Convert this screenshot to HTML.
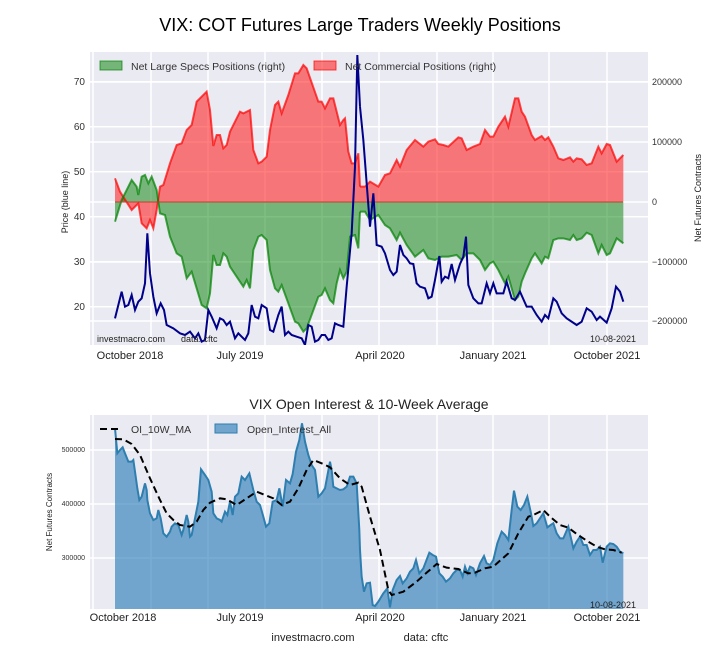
<!DOCTYPE html>
<html><head><meta charset="utf-8"><style>
body{margin:0;background:#fff;}
svg{display:block;font-family:"Liberation Sans",sans-serif;}
</style></head><body>
<svg width="720" height="660" viewBox="0 0 720 660" xmlns="http://www.w3.org/2000/svg">
<rect width="720" height="660" fill="#fff"/>
<text x="360" y="31" font-size="18" text-anchor="middle" fill="#000">VIX: COT Futures Large Traders Weekly Positions</text>
<rect x="90" y="52" width="558" height="293" fill="#eaeaf2"/>
<g stroke="#fff" stroke-width="1.5">
<line x1="93" y1="52" x2="93" y2="345"/><line x1="151" y1="52" x2="151" y2="345"/><line x1="208" y1="52" x2="208" y2="345"/><line x1="265" y1="52" x2="265" y2="345"/><line x1="322" y1="52" x2="322" y2="345"/><line x1="379" y1="52" x2="379" y2="345"/><line x1="437" y1="52" x2="437" y2="345"/><line x1="493" y1="52" x2="493" y2="345"/><line x1="549" y1="52" x2="549" y2="345"/><line x1="607" y1="52" x2="607" y2="345"/>
<line x1="90" y1="81.7" x2="648" y2="81.7"/><line x1="90" y1="126.7" x2="648" y2="126.7"/><line x1="90" y1="171.7" x2="648" y2="171.7"/><line x1="90" y1="216.7" x2="648" y2="216.7"/><line x1="90" y1="261.7" x2="648" y2="261.7"/><line x1="90" y1="306.7" x2="648" y2="306.7"/>
<line x1="90" y1="82" x2="648" y2="82"/><line x1="90" y1="142" x2="648" y2="142"/><line x1="90" y1="202" x2="648" y2="202"/><line x1="90" y1="262" x2="648" y2="262"/><line x1="90" y1="321" x2="648" y2="321"/>
</g>
<defs><clipPath id="c1"><rect x="90" y="52" width="558" height="293"/></clipPath><clipPath id="c2"><rect x="90" y="415" width="558" height="194"/></clipPath></defs>
<g clip-path="url(#c1)">
<g transform="translate(40,40) scale(0.33333)">
<polygon fill="rgba(255,0,0,0.5)" points="225,485 225,415 240,455 275,510 295,490 305,550 320,565 330,540 340,565 350,510 360,440 370,435 390,370 410,315 425,310 440,270 455,255 470,185 500,155 510,210 520,318 530,285 540,285 550,325 560,315 570,275 600,215 610,220 630,210 640,330 655,370 665,365 680,350 690,270 705,195 715,185 725,220 745,165 765,100 775,100 790,75 800,85 835,185 845,185 855,205 870,175 880,175 890,215 900,255 910,240 915,235 925,335 935,370 945,370 955,340 960,440 960,485"/>
<polygon fill="rgba(0,128,0,0.5)" points="225,485 225,545 245,480 275,420 290,440 295,465 305,410 315,405 325,430 335,410 350,450 360,520 375,525 390,590 410,640 425,650 440,715 455,695 470,745 485,795 500,805 510,760 520,645 530,675 540,675 550,640 560,650 570,680 600,725 610,740 620,720 630,745 640,630 655,590 665,585 680,600 690,690 705,745 715,755 725,735 745,790 765,845 775,850 790,875 800,865 835,770 845,765 855,745 870,780 880,790 890,730 900,690 910,715 920,695 930,590 945,585 955,625 960,515 960,485"/>
<polyline fill="none" stroke="rgba(255,0,0,0.7)" stroke-width="2" vector-effect="non-scaling-stroke" points="225,415 240,455 275,510 295,490 305,550 320,565 330,540 340,565 350,510 360,440 370,435 390,370 410,315 425,310 440,270 455,255 470,185 500,155 510,210 520,318 530,285 540,285 550,325 560,315 570,275 600,215 610,220 630,210 640,330 655,370 665,365 680,350 690,270 705,195 715,185 725,220 745,165 765,100 775,100 790,75 800,85 835,185 845,185 855,205 870,175 880,175 890,215 900,255 910,240 915,235 925,335 935,370 945,370 955,340 960,440"/>
<polyline fill="none" stroke="rgba(0,128,0,0.7)" stroke-width="2" vector-effect="non-scaling-stroke" points="225,545 245,480 275,420 290,440 295,465 305,410 315,405 325,430 335,410 350,450 360,520 375,525 390,590 410,640 425,650 440,715 455,695 470,745 485,795 500,805 510,760 520,645 530,675 540,675 550,640 560,650 570,680 600,725 610,740 620,720 630,745 640,630 655,590 665,585 680,600 690,690 705,745 715,755 725,735 745,790 765,845 775,850 790,875 800,865 835,770 845,765 855,745 870,780 880,790 890,730 900,690 910,715 920,695 930,590 945,585 955,625 960,515"/>
</g>
<g transform="translate(360,40) scale(0.33333)">
<polygon fill="rgba(255,0,0,0.5)" points="0,485 0,440 15,440 30,425 55,440 75,405 90,400 110,360 120,380 140,330 165,300 190,320 205,305 225,298 235,312 250,315 265,320 295,292 305,295 320,330 340,320 360,312 375,270 390,290 400,290 415,260 435,230 445,260 465,175 475,175 485,215 495,230 515,285 525,300 545,288 555,300 565,292 580,320 595,355 610,360 630,352 640,365 650,355 665,358 680,375 695,370 715,320 725,340 740,312 750,315 770,365 790,345 790,485"/>
<polygon fill="rgba(0,128,0,0.5)" points="0,485 0,515 15,515 30,540 55,525 75,555 90,565 110,600 120,578 140,615 165,650 190,630 205,655 225,660 245,650 265,650 290,645 305,660 320,640 340,640 360,660 375,690 390,670 400,665 415,690 435,730 445,710 465,780 475,770 485,725 495,700 515,655 525,640 545,670 555,650 565,655 580,600 595,595 610,595 630,600 640,585 650,600 665,595 680,578 695,585 715,640 725,615 740,645 750,640 770,595 790,610 790,485"/>
<polyline fill="none" stroke="rgba(255,0,0,0.7)" stroke-width="2" vector-effect="non-scaling-stroke" points="0,440 15,440 30,425 55,440 75,405 90,400 110,360 120,380 140,330 165,300 190,320 205,305 225,298 235,312 250,315 265,320 295,292 305,295 320,330 340,320 360,312 375,270 390,290 400,290 415,260 435,230 445,260 465,175 475,175 485,215 495,230 515,285 525,300 545,288 555,300 565,292 580,320 595,355 610,360 630,352 640,365 650,355 665,358 680,375 695,370 715,320 725,340 740,312 750,315 770,365 790,345"/>
<polyline fill="none" stroke="rgba(0,128,0,0.7)" stroke-width="2" vector-effect="non-scaling-stroke" points="0,515 15,515 30,540 55,525 75,555 90,565 110,600 120,578 140,615 165,650 190,630 205,655 225,660 245,650 265,650 290,645 305,660 320,640 340,640 360,660 375,690 390,670 400,665 415,690 435,730 445,710 465,780 475,770 485,725 495,700 515,655 525,640 545,670 555,650 565,655 580,600 595,595 610,595 630,600 640,585 650,600 665,595 680,578 695,585 715,640 725,615 740,645 750,640 770,595 790,610"/>
</g>
<line x1="115" y1="202" x2="623" y2="202" stroke="#c0392b" stroke-width="1.2" opacity="0.8"/>
<g transform="translate(40,40) scale(0.33333)">
<polyline fill="none" stroke="#00008b" stroke-width="2" vector-effect="non-scaling-stroke" points="225,835 245,755 255,800 265,795 275,765 285,810 295,785 305,775 315,730 322,580 330,700 340,770 350,820 362,790 372,810 380,855 400,865 420,880 435,885 450,875 465,895 475,880 485,905 495,900 505,810 515,830 530,865 540,835 550,840 560,855 570,845 585,895 595,880 605,890 615,900 625,880 635,795 645,830 655,835 665,795 680,805 690,870 700,875 715,825 725,800 735,885 745,875 755,885 770,890 785,895 795,915 805,855 815,860 825,905 835,900 845,885 855,885 865,900 875,895 885,850 895,855 910,860 920,740 935,580 945,380 952,45 960,200"/>
</g>
<g transform="translate(360,40) scale(0.33333)">
<polyline fill="none" stroke="#00008b" stroke-width="2" vector-effect="non-scaling-stroke" points="0,200 10,300 30,560 40,460 50,615 65,620 75,640 90,690 100,705 110,695 120,615 130,645 140,655 150,670 160,672 170,730 180,740 195,745 205,775 215,770 225,720 238,648 245,725 255,710 265,715 275,672 285,720 300,672 310,650 318,590 325,735 340,775 355,790 365,790 380,730 390,760 400,730 410,760 430,760 440,725 455,775 465,780 480,755 500,800 515,800 530,825 545,845 555,825 565,835 580,775 590,785 605,820 620,835 650,855 665,845 680,805 695,815 710,840 720,830 740,848 755,805 768,740 780,755 790,785"/>
</g>
</g>
<rect x="100" y="61" width="22" height="9" fill="rgba(0,128,0,0.5)" stroke="rgba(0,128,0,0.7)"/>
<text x="131" y="70" font-size="10.5" fill="#333">Net Large Specs Positions (right)</text>
<rect x="314" y="61" width="22" height="9" fill="rgba(255,0,0,0.5)" stroke="rgba(255,0,0,0.7)"/>
<text x="345" y="70" font-size="10.5" fill="#333">Net Commercial Positions (right)</text>
<text x="97" y="342" font-size="9" fill="#222">investmacro.com</text>
<text x="181" y="342" font-size="9" fill="#222">data: cftc</text>
<text x="636" y="342" font-size="9" fill="#222" text-anchor="end">10-08-2021</text>
<g font-size="10" fill="#333" text-anchor="end">
<text x="85" y="85">70</text><text x="85" y="130">60</text><text x="85" y="175">50</text><text x="85" y="220">40</text><text x="85" y="265">30</text><text x="85" y="310">20</text>
</g>
<g font-size="9" fill="#333">
<text x="652" y="85">200000</text><text x="652" y="145">100000</text><text x="652" y="205">0</text><text x="652" y="265">−100000</text><text x="652" y="324">−200000</text>
</g>
<text transform="translate(68,202) rotate(-90)" font-size="9" fill="#222" text-anchor="middle">Price (blue line)</text>
<text transform="translate(701,198) rotate(-90)" font-size="9" fill="#222" text-anchor="middle">Net Futures Contracts</text>
<g font-size="11" fill="#222" text-anchor="middle">
<text x="130" y="359">October 2018</text><text x="240" y="359">July 2019</text><text x="380" y="359">April 2020</text><text x="493" y="359">January 2021</text><text x="607" y="359">October 2021</text>
</g>
<text x="369" y="409" font-size="14" text-anchor="middle" fill="#222">VIX Open Interest &amp; 10-Week Average</text>
<rect x="90" y="415" width="558" height="194" fill="#eaeaf2"/>
<g stroke="#fff" stroke-width="1.5">
<line x1="93" y1="415" x2="93" y2="609"/><line x1="151" y1="415" x2="151" y2="609"/><line x1="208" y1="415" x2="208" y2="609"/><line x1="265" y1="415" x2="265" y2="609"/><line x1="322" y1="415" x2="322" y2="609"/><line x1="379" y1="415" x2="379" y2="609"/><line x1="437" y1="415" x2="437" y2="609"/><line x1="493" y1="415" x2="493" y2="609"/><line x1="549" y1="415" x2="549" y2="609"/><line x1="607" y1="415" x2="607" y2="609"/>
<line x1="90" y1="450" x2="648" y2="450"/><line x1="90" y1="504" x2="648" y2="504"/><line x1="90" y1="558" x2="648" y2="558"/>
</g>
<g clip-path="url(#c2)">
<g transform="translate(40,390) scale(0.33333)">
<polygon fill="rgba(31,119,180,0.6)" points="225,660 225,115 232,190 240,180 248,172 255,190 265,215 275,215 280,210 285,245 292,295 298,330 305,320 315,280 320,300 322,330 330,370 340,390 350,385 355,360 362,385 370,430 380,440 390,425 395,410 405,400 415,405 425,435 430,420 440,375 445,395 450,440 455,435 465,385 475,335 483,238 495,255 505,270 515,305 520,370 530,385 540,390 545,395 555,365 562,375 570,335 578,375 585,320 595,310 605,260 615,270 628,250 640,300 650,335 660,345 670,380 678,410 688,400 698,335 710,330 718,295 728,350 738,270 750,280 758,252 768,185 778,150 786,100 795,155 805,195 815,225 825,240 835,320 845,310 855,295 870,215 875,240 880,290 890,295 900,300 910,298 920,290 930,260 940,260 950,280 958,420 960,480 960,660"/>
<polyline fill="none" stroke="#2e7fb0" stroke-width="2" vector-effect="non-scaling-stroke" points="225,115 232,190 240,180 248,172 255,190 265,215 275,215 280,210 285,245 292,295 298,330 305,320 315,280 320,300 322,330 330,370 340,390 350,385 355,360 362,385 370,430 380,440 390,425 395,410 405,400 415,405 425,435 430,420 440,375 445,395 450,440 455,435 465,385 475,335 483,238 495,255 505,270 515,305 520,370 530,385 540,390 545,395 555,365 562,375 570,335 578,375 585,320 595,310 605,260 615,270 628,250 640,300 650,335 660,345 670,380 678,410 688,400 698,335 710,330 718,295 728,350 738,270 750,280 758,252 768,185 778,150 786,100 795,155 805,195 815,225 825,240 835,320 845,310 855,295 870,215 875,240 880,290 890,295 900,300 910,298 920,290 930,260 940,260 950,280 958,420 960,480"/>
</g>
<g transform="translate(360,390) scale(0.33333)">
<polygon fill="rgba(31,119,180,0.6)" points="0,660 0,480 5,560 12,605 20,580 30,578 38,645 45,648 55,635 70,610 82,595 90,652 98,600 110,570 120,558 128,580 140,565 150,545 160,535 168,510 178,550 190,535 208,488 218,495 228,500 238,550 248,560 258,575 270,565 280,550 290,540 300,540 308,560 315,530 322,550 330,530 340,535 348,555 360,520 372,498 380,520 390,525 400,510 412,460 425,425 435,435 445,450 455,360 462,302 472,350 482,360 492,345 502,320 512,365 520,408 530,400 540,385 550,370 562,412 572,405 580,400 590,430 600,445 610,445 625,410 640,475 650,455 660,440 670,465 680,465 690,495 700,480 710,480 720,470 728,518 740,470 750,460 760,462 770,470 780,485 790,490 790,660"/>
<polyline fill="none" stroke="#2e7fb0" stroke-width="2" vector-effect="non-scaling-stroke" points="0,480 5,560 12,605 20,580 30,578 38,645 45,648 55,635 70,610 82,595 90,652 98,600 110,570 120,558 128,580 140,565 150,545 160,535 168,510 178,550 190,535 208,488 218,495 228,500 238,550 248,560 258,575 270,565 280,550 290,540 300,540 308,560 315,530 322,550 330,530 340,535 348,555 360,520 372,498 380,520 390,525 400,510 412,460 425,425 435,435 445,450 455,360 462,302 472,350 482,360 492,345 502,320 512,365 520,408 530,400 540,385 550,370 562,412 572,405 580,400 590,430 600,445 610,445 625,410 640,475 650,455 660,440 670,465 680,465 690,495 700,480 710,480 720,470 728,518 740,470 750,460 760,462 770,470 780,485 790,490"/>
</g>
<g transform="translate(40,390) scale(0.33333)">
<polyline fill="none" stroke="#000" stroke-width="2" stroke-dasharray="7,4" vector-effect="non-scaling-stroke" points="225,147 250,148 275,162 300,195 330,265 360,330 380,370 400,390 420,405 450,410 470,395 490,360 510,338 540,325 560,328 590,345 620,325 650,305 700,325 725,345 750,335 775,295 800,240 820,210 850,222 870,232 900,265 930,285 955,278 965,290 990,380 1020,480 1045,600 1055,615 1090,605 1130,575 1160,548 1190,522 1220,533 1255,537 1285,550 1305,548 1335,535 1360,530 1380,512 1405,490 1435,430 1465,380 1480,375 1510,360 1530,380 1560,405 1585,413 1610,432 1640,452 1670,470 1695,478 1720,480 1745,488"/>
</g>
</g>
<line x1="100" y1="429" x2="122" y2="429" stroke="#000" stroke-width="2" stroke-dasharray="7,4"/>
<text x="131" y="433" font-size="10.5" fill="#333">OI_10W_MA</text>
<rect x="215" y="424" width="22" height="9" fill="rgba(31,119,180,0.6)" stroke="#2e7fb0"/>
<text x="247" y="433" font-size="10.5" fill="#333">Open_Interest_All</text>
<text x="636" y="608" font-size="9" fill="#222" text-anchor="end">10-08-2021</text>
<g font-size="7" fill="#333" text-anchor="end">
<text x="85" y="452">500000</text><text x="85" y="506">400000</text><text x="85" y="560">300000</text>
</g>
<text transform="translate(52,512) rotate(-90)" font-size="8" fill="#222" text-anchor="middle">Net Futures Contracts</text>
<g font-size="11" fill="#222" text-anchor="middle">
<text x="123" y="621">October 2018</text><text x="240" y="621">July 2019</text><text x="380" y="621">April 2020</text><text x="493" y="621">January 2021</text><text x="607" y="621">October 2021</text>
</g>
<text x="313" y="641" font-size="11" fill="#222" text-anchor="middle">investmacro.com</text>
<text x="426" y="641" font-size="11" fill="#222" text-anchor="middle">data: cftc</text>
</svg>
</body></html>
